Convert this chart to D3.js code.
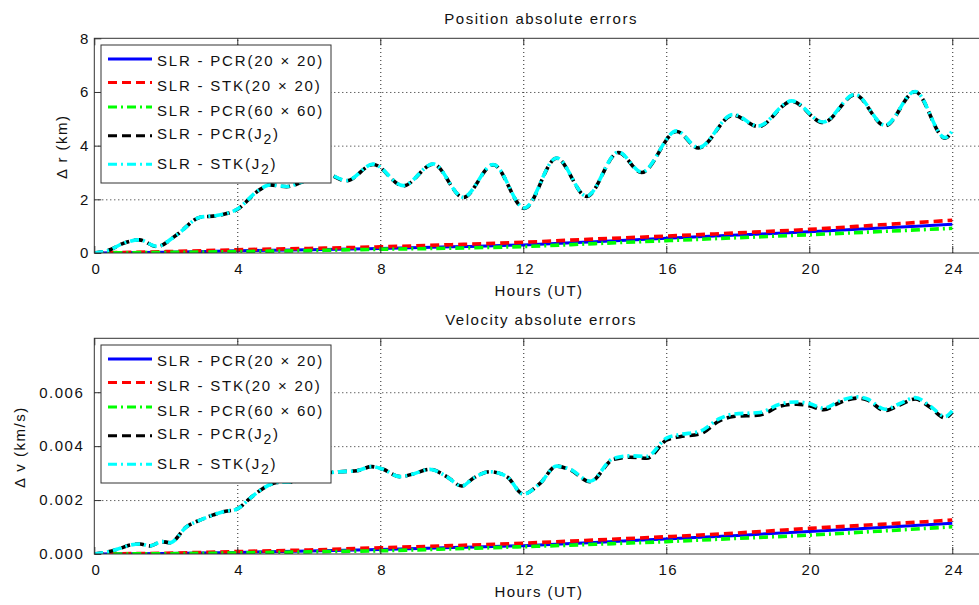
<!DOCTYPE html>
<html>
<head>
<meta charset="utf-8">
<script src="https://cdn.jsdelivr.net/npm/d3@7"></script>
<style>
  body { margin: 0; background: #fff; }
  svg { display: block; font-family: "Liberation Sans", Arial, sans-serif; }
  text { font-size: 15px; letter-spacing: 1.5px; fill: #111; }
  .legend text { letter-spacing: 1.8px; }
</style>
</head>
<body>
<script>
// hours on the x axis
const xTicks = [0, 4, 8, 12, 16, 20, 24]

// position errors (km)
const posTicks = [0, 2, 4, 6, 8]
const lowHours = [0, 2, 4, 6, 8, 10, 12, 14, 16, 18, 20, 22, 24]
const posPcr20 = [0, 0.03, 0.08, 0.12, 0.17, 0.23, 0.30, 0.42, 0.55, 0.67, 0.79, 0.93, 1.07]
const posStk20 = [0, 0.05, 0.12, 0.17, 0.23, 0.31, 0.40, 0.52, 0.63, 0.75, 0.88, 1.05, 1.22]
const posPcr60 = [0, 0.02, 0.05, 0.09, 0.14, 0.18, 0.24, 0.35, 0.46, 0.57, 0.68, 0.80, 0.92]

const posJ2Hours = [0, 0.44, 0.81, 1.26, 1.75, 2.3, 2.96, 3.42, 3.98, 4.63, 4.91, 5.38, 5.85, 6.4,
  7.06, 7.8, 8.64, 9.48, 10.32, 11.16, 12.03, 12.93, 13.77, 14.66, 15.31, 16.29, 16.9, 17.87,
  18.57, 19.51, 20.39, 21.28, 22.12, 22.96, 23.8, 24]
const posPcrJ2 = [0, 0.12, 0.36, 0.49, 0.24, 0.67, 1.33, 1.39, 1.61, 2.36, 2.54, 2.47, 2.66, 2.99,
  2.69, 3.30, 2.50, 3.31, 2.07, 3.29, 1.66, 3.53, 2.11, 3.74, 3.00, 4.53, 3.91, 5.14,
  4.71, 5.65, 4.86, 5.89, 4.74, 6.01, 4.28, 4.53]
const posStkJ2 = [0, 0.12, 0.36, 0.49, 0.25, 0.67, 1.33, 1.40, 1.62, 2.37, 2.54, 2.48, 2.67, 3.00,
  2.70, 3.31, 2.51, 3.32, 2.08, 3.30, 1.68, 3.54, 2.12, 3.76, 3.02, 4.55, 3.93, 5.16,
  4.73, 5.67, 4.88, 5.91, 4.76, 6.02, 4.30, 4.55]

// velocity errors (km/s)
const velTicks = [0, 0.002, 0.004, 0.006]
const velPcr20 = [0, 0.00002, 0.00006, 0.00011, 0.00017, 0.00024, 0.00031, 0.00043, 0.00056, 0.00069, 0.00083, 0.00098, 0.00114]
const velStk20 = [0, 0.00003, 0.00009, 0.00015, 0.00023, 0.00031, 0.00040, 0.00052, 0.00064, 0.00078, 0.00095, 0.00110, 0.00126]
const velPcr60 = [0, 0.00001, 0.00004, 0.00008, 0.00012, 0.00019, 0.00027, 0.00036, 0.00046, 0.00058, 0.00070, 0.00085, 0.00101]

const velJ2Hours = [0, 0.39, 0.72, 1.0, 1.28, 1.56, 1.89, 2.12, 2.58, 2.96, 3.33, 3.61, 3.98, 4.36,
  4.73, 5.1, 5.57, 5.94, 6.4, 6.87, 7.34, 7.76, 8.08, 8.55, 8.92, 9.39, 9.86, 10.28, 10.6,
  11.07, 11.54, 12.0, 12.47, 12.93, 13.31, 13.87, 14.52, 14.99, 15.45, 16.01, 16.38, 16.94,
  17.5, 17.88, 18.62, 19.18, 19.65, 20.02, 20.4, 20.86, 21.33, 21.61, 22.12, 22.54, 22.96,
  23.38, 23.8, 24]
const velPcrJ2 = [0, 0.00008, 0.00021, 0.00033, 0.00037, 0.00030, 0.00046, 0.00042, 0.00101, 0.00126,
  0.00145, 0.00157, 0.00166, 0.00207, 0.00244, 0.00265, 0.00268, 0.00285, 0.00299, 0.00305,
  0.00309, 0.00324, 0.00314, 0.00287, 0.00297, 0.00314, 0.00287, 0.00252, 0.00281, 0.00305,
  0.00287, 0.00222, 0.00262, 0.00326, 0.00312, 0.00268, 0.00351, 0.00359, 0.00355, 0.00423,
  0.00435, 0.00445, 0.00495, 0.00510, 0.00516, 0.00548, 0.00556, 0.00549, 0.00535, 0.00562,
  0.00578, 0.00572, 0.00532, 0.00553, 0.00575, 0.00544, 0.00505, 0.00526]
const velStkJ2 = [0, 0.00008, 0.00021, 0.00033, 0.00037, 0.00030, 0.00046, 0.00042, 0.00101, 0.00126,
  0.00145, 0.00157, 0.00166, 0.00207, 0.00244, 0.00265, 0.00268, 0.00285, 0.00299, 0.00305,
  0.00309, 0.00324, 0.00314, 0.00287, 0.00297, 0.00314, 0.00287, 0.00252, 0.00281, 0.00305,
  0.00287, 0.00222, 0.00262, 0.00326, 0.00314, 0.00270, 0.00355, 0.00364, 0.00362, 0.00430,
  0.00443, 0.00455, 0.00503, 0.00519, 0.00525, 0.00556, 0.00564, 0.00557, 0.00541, 0.00568,
  0.00583, 0.00576, 0.00537, 0.00558, 0.00580, 0.00549, 0.00510, 0.00531]

const seriesNames = ["SLR - PCR(20 × 20)", "SLR - STK(20 × 20)", "SLR - PCR(60 × 60)", "SLR - PCR(J|2|)", "SLR - STK(J|2|)"]
const seriesColors = ["#0000ff", "#ff0000", "#00ff00", "#000000", "#00ffff"]
const seriesDashes = [null, "9,5", "9,4,2,4", "9,5", "9,4,2,4"]

const width = 979
const height = 605

const svg = d3.select("body").append("svg")
  .attr("width", width)
  .attr("height", height)

const x = d3.scaleLinear().domain([0, 25]).range([94.3, 988])

const panels = [
  {
    title: "Position absolute errors", ylabel: "Δ r (km)",
    top: 38.3, bottom: 253, yMax: 8, ticks: posTicks, fmt: d3.format("d"),
    labelX: 62, pad: 4.5, titleY: 19,
    series: [
      [lowHours, posPcr20], [lowHours, posStk20], [lowHours, posPcr60],
      [posJ2Hours, posPcrJ2], [posJ2Hours, posStkJ2]
    ]
  },
  {
    title: "Velocity absolute errors", ylabel: "Δ v (km/s)",
    top: 338.3, bottom: 554, yMax: 0.008, ticks: velTicks, fmt: d3.format(".3f"),
    labelX: 20, pad: 10, titleY: 320,
    series: [
      [lowHours, velPcr20], [lowHours, velStk20], [lowHours, velPcr60],
      [velJ2Hours, velPcrJ2], [velJ2Hours, velStkJ2]
    ]
  }
]

panels.forEach((p, pi) => {
  const y = d3.scaleLinear().domain([0, p.yMax]).range([p.bottom, p.top])
  const g = svg.append("g")
  const x0 = x.range()[0], x1 = x.range()[1]

  g.append("clipPath").attr("id", "clip" + pi)
    .append("rect").attr("x", x0).attr("y", p.top).attr("width", x1 - x0).attr("height", p.bottom - p.top)

  // grid
  g.append("g").attr("transform", `translate(0,${p.bottom})`)
    .call(d3.axisBottom(x).tickValues(xTicks.slice(1)).tickSize(-(p.bottom - p.top)).tickFormat(""))
    .call(a => a.select(".domain").remove())
    .selectAll("line").attr("stroke", "#222").attr("stroke-dasharray", "1,3")
  g.append("g").attr("transform", `translate(${x0},0)`)
    .call(d3.axisLeft(y).tickValues(p.ticks.filter(t => t > 0 && t < p.yMax)).tickSize(-(x1 - x0)).tickFormat(""))
    .call(a => a.select(".domain").remove())
    .selectAll("line").attr("stroke", "#222").attr("stroke-dasharray", "1,3")

  // curves
  const line = d3.line().curve(d3.curveMonotoneX)
  const plot = g.append("g").attr("clip-path", `url(#clip${pi})`)
  p.series.forEach((s, i) => {
    const pts = s[0].map((h, k) => [x(h), y(s[1][k])])
    plot.append("path")
      .attr("d", line(pts))
      .attr("fill", "none")
      .attr("stroke", seriesColors[i])
      .attr("stroke-width", i === 0 ? 3 : 3.6)
      .attr("stroke-dasharray", seriesDashes[i])
  })

  // frame and axes
  g.append("rect").attr("x", x0).attr("y", p.top).attr("width", x1 - x0).attr("height", p.bottom - p.top)
    .attr("fill", "none").attr("stroke", "#333").attr("stroke-width", 1)

  const xa = g.append("g").attr("transform", `translate(0,${p.bottom})`)
    .call(d3.axisBottom(x).tickValues(xTicks).tickSize(-7).tickSizeOuter(0).tickPadding(10))
  xa.select(".domain").remove()
  xa.selectAll("line").attr("stroke", "#333")
  xa.selectAll("text").style("font-size", "15px").attr("fill", "#111").attr("dx", "0.1em")

  const xt = g.append("g").attr("transform", `translate(0,${p.top})`)
    .call(d3.axisTop(x).tickValues(xTicks).tickSize(-7).tickFormat(""))
  xt.select(".domain").remove()
  xt.selectAll("line").attr("stroke", "#333")

  const ya = g.append("g").attr("transform", `translate(${x0},0)`)
    .call(d3.axisLeft(y).tickValues(p.ticks).tickSize(-7).tickSizeOuter(0).tickPadding(p.pad).tickFormat(p.fmt))
  ya.select(".domain").remove()
  ya.selectAll("line").attr("stroke", "#333")
  ya.selectAll("text").style("font-size", "15px").attr("fill", "#111")

  // labels
  g.append("text").attr("x", (x0 + x1) / 2).attr("y", p.titleY).attr("dy", "0.35em")
    .attr("text-anchor", "middle").text(p.title)
  g.append("text").attr("x", 539).attr("y", p.bottom + 38).attr("dy", "0.35em")
    .attr("text-anchor", "middle").text("Hours (UT)")
  g.append("text").attr("transform", `translate(${p.labelX},${(p.top + p.bottom) / 2 + 1}) rotate(-90)`)
    .attr("dy", "0.35em").attr("text-anchor", "middle").text(p.ylabel)

  // legend
  const lg = g.append("g").attr("class", "legend").attr("transform", `translate(101,${p.top + 6.7})`)
  lg.append("rect").attr("width", 230).attr("height", 138)
    .attr("fill", "#fff").attr("stroke", "#333").attr("stroke-width", 1)
  const sampleY = [14, 37.5, 62, 90.7, 119.3]
  const textY = [20.5, 45.5, 70.5, 93.5, 123.5]
  seriesNames.forEach((name, i) => {
    lg.append("line").attr("x1", 7).attr("x2", 51).attr("y1", sampleY[i]).attr("y2", sampleY[i])
      .attr("stroke", seriesColors[i]).attr("stroke-width", 3)
      .attr("stroke-dasharray", seriesDashes[i])
    const parts = name.split("|")
    const t = lg.append("text").attr("x", 56).attr("y", textY[i])
    t.append("tspan").text(parts[0])
    if (parts.length > 1) {
      t.append("tspan").attr("dy", 5).style("font-size", "14px").text(parts[1])
      t.append("tspan").attr("dy", -5).text(parts[2])
    }
  })
})
</script>
</body>
</html>
